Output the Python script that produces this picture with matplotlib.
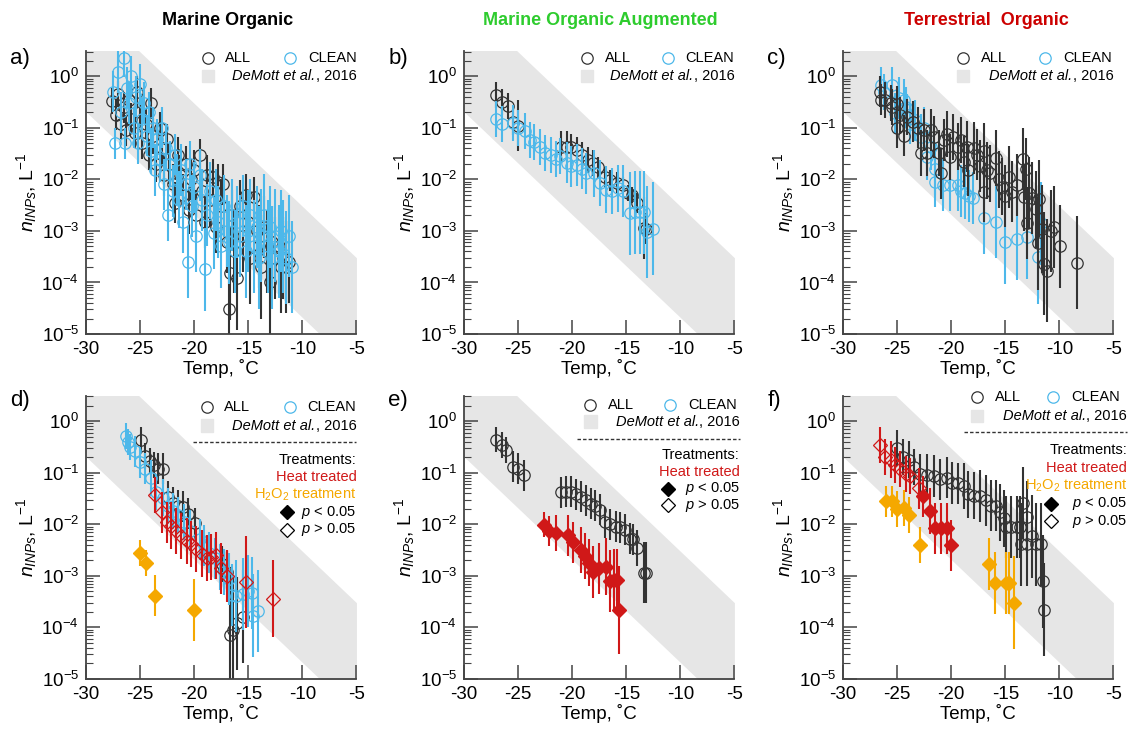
import numpy as np
import matplotlib.pyplot as plt
from matplotlib.patches import Rectangle
from matplotlib.ticker import LogLocator, NullFormatter, FixedLocator
from matplotlib.transforms import offset_copy

plt.rcParams['font.family'] = ['Liberation Sans', 'DejaVu Sans']
plt.rcParams['mathtext.fontset'] = 'custom'
plt.rcParams['mathtext.rm'] = 'Liberation Sans'
plt.rcParams['mathtext.it'] = 'Liberation Sans:italic'
plt.rcParams['axes.unicode_minus'] = False

# DeMott et al. 2016 band (edges at -30 and -5 C)
band_t = [-30, -5]
band_hi = [10**1.467, 10**-3.52]
band_lo = [10**-0.69, 10**-5.675]

# ---- a) Marine Organic ----
a_all_t = [-27.6, -27.2, -27.0, -26.8, -26.5, -26.3, -26.0, -25.8, -25.5, -25.3, -25.0, -24.8,
           -24.5, -24.2, -24.0, -23.8, -23.5, -23.2, -23.0, -22.8, -22.5, -22.3, -22.0, -21.8,
           -21.5, -21.3, -21.0, -20.8, -20.5, -20.3, -20.0, -19.8, -19.5, -19.3, -19.0, -18.8,
           -18.5, -18.3, -18.0, -17.8, -17.5, -17.3, -17.0, -16.8, -16.7, -16.5, -16.3, -16.0,
           -15.8, -15.5, -15.2, -15.0, -14.8, -14.5, -14.2, -14.0, -13.8, -13.5, -13.3, -13.0,
           -12.8, -12.5, -12.2, -12.0, -11.8, -11.5, -11.2]
a_all_y = [0.33, 0.18, 0.45, 0.12, 0.25, 0.09, 0.35, 0.15, 0.08, 0.5, 0.2, 0.05,
           0.12, 0.03, 0.3, 0.07, 0.02, 0.1, 0.04, 0.012, 0.06, 0.02, 0.008, 0.0035,
           0.03, 0.012, 0.005, 0.02, 0.0025, 0.01, 0.015, 0.002, 0.03, 0.006, 0.0015, 0.012,
           0.004, 0.011, 0.0012, 0.009, 0.003, 0.008, 0.0006, 3e-5, 1.5e-4, 0.002, 0.0004, 1.2e-4,
           0.003, 0.0008, 0.005, 0.0015, 0.0003, 0.0045, 0.001, 0.0005, 0.0002, 0.0012, 0.0004, 1e-4,
           0.0006, 0.0003, 0.0005, 0.0002, 0.0003, 0.0002, 0.00025]
a_all_e = [0.25, 0.3, 0.25, 0.3, 0.3, 0.3, 0.3, 0.3, 0.3, 0.3, 0.3, 0.3,
           0.3, 0.3, 0.3, 0.35, 0.35, 0.3, 0.35, 0.4, 0.3, 0.4, 0.4, 0.4,
           0.35, 0.4, 0.4, 0.35, 0.45, 0.4, 0.4, 0.5, 0.3, 0.4, 0.5, 0.4,
           0.5, 0.35, 0.5, 0.35, 0.5, 0.4, 0.6, 1.0, 0.9, 0.5, 0.8, 1.0,
           0.5, 0.7, 0.4, 0.6, 0.9, 0.4, 0.6, 0.8, 1.0, 0.6, 0.8, 1.0,
           0.7, 0.8, 0.7, 0.9, 0.8, 0.9, 0.8]
a_cln_t = [-27.5, -27.3, -27.0, -26.8, -26.5, -26.4, -26.2, -26.0, -25.8, -25.6, -25.4, -25.2,
           -25.0, -24.8, -24.6, -24.4, -24.2, -24.0, -23.8, -23.6, -23.4, -23.2, -23.0, -22.8,
           -22.6, -22.4, -22.2, -22.0, -21.8, -21.6, -21.4, -21.2, -21.0, -20.8, -20.6, -20.4,
           -20.2, -20.0, -19.8, -19.5, -19.3, -19.0, -18.8, -18.5, -18.2, -18.0, -17.8, -17.5,
           -17.2, -17.0, -16.8, -16.5, -16.2, -16.0, -15.8, -15.5, -15.2, -15.0, -14.8, -14.5,
           -14.2, -14.0, -13.8, -13.5, -13.2, -13.0, -12.8, -12.5, -12.2, -12.0, -11.8, -11.5,
           -11.2, -11.0]
a_cln_y = [0.5, 0.05, 1.2, 0.2, 2.2, 0.05, 0.6, 0.3, 1.0, 0.1, 0.4, 0.05,
           0.7, 0.15, 0.3, 0.07, 0.2, 0.035, 0.1, 0.015, 0.06, 0.025, 0.1, 0.008,
           0.04, 0.002, 0.02, 0.006, 0.03, 0.01, 0.004, 0.015, 0.0015, 0.008, 0.00025, 0.02,
           0.003, 0.007, 0.0008, 0.012, 0.004, 0.00018, 0.002, 0.006, 0.0009, 0.004, 0.0015, 0.0005,
           0.003, 0.001, 0.0006, 0.002, 0.0004, 0.0015, 0.0008, 0.003, 0.0004, 0.001, 0.002, 0.0005,
           0.0012, 0.0003, 0.0008, 0.002, 0.0005, 0.0012, 0.0003, 0.0008, 0.0004, 0.001, 0.0005, 0.0003,
           0.0008, 0.0002]
a_cln_e = [0.4, 0.3, 0.4, 0.4, 0.35, 0.3, 0.4, 0.4, 0.4, 0.4, 0.4, 0.4,
           0.4, 0.4, 0.4, 0.4, 0.4, 0.45, 0.4, 0.5, 0.4, 0.45, 0.4, 0.5,
           0.45, 0.5, 0.45, 0.5, 0.4, 0.5, 0.55, 0.5, 0.6, 0.5, 0.7, 0.45,
           0.6, 0.5, 0.7, 0.5, 0.6, 0.8, 0.6, 0.55, 0.7, 0.6, 0.7, 0.8,
           0.6, 0.7, 0.8, 0.7, 0.8, 0.7, 0.8, 0.6, 0.9, 0.8, 0.7, 0.9,
           0.8, 1.0, 0.9, 0.8, 0.9, 0.8, 1.0, 0.9, 0.9, 0.8, 0.9, 0.9,
           0.8, 0.9]

# ---- b) Marine Organic Augmented ----
b_all_t = [-27.07, -26.5, -25.9, -25.5, -25.0, -21.0, -20.5, -20.1, -19.6, -19.1, -18.5,
           -18.06, -17.6, -17.0, -16.5, -15.9, -15.3, -14.8, -14.5, -14.0, -13.4, -13.2]
b_all_y = [0.43, 0.32, 0.26, 0.13, 0.11, 0.043, 0.043, 0.043, 0.037, 0.03, 0.024,
           0.021, 0.017, 0.011, 0.0096, 0.0086, 0.0078, 0.0054, 0.005, 0.0035, 0.00115, 0.0011]
b_all_e = [0.25, 0.25, 0.25, 0.25, 0.5, 0.3, 0.3, 0.25, 0.25, 0.25, 0.25,
           0.25, 0.2, 0.2, 0.2, 0.2, 0.15, 0.15, 0.15, 0.2, 0.6, 0.3]
b_cln_t = [-27.0, -26.45, -25.5, -25.0, -24.4, -23.9, -23.5, -23.0, -22.5, -22.0, -21.5,
           -21.1, -20.5, -20.1, -19.6, -19.1, -18.7, -18.0, -17.4, -16.9, -16.35, -15.8,
           -15.3, -14.7, -14.2, -13.7, -13.4, -13.1, -12.5]
b_cln_y = [0.15, 0.12, 0.125, 0.10, 0.085, 0.057, 0.052, 0.043, 0.032, 0.03, 0.025,
           0.028, 0.021, 0.018, 0.019, 0.016, 0.013, 0.013, 0.0085, 0.0063, 0.006, 0.0067,
           0.006, 0.0022, 0.0023, 0.0023, 0.0023, 0.00095, 0.0011]
b_cln_e = [0.35, 0.35, 0.35, 0.35, 0.35, 0.35, 0.35, 0.35, 0.35, 0.35, 0.35,
           0.35, 0.4, 0.4, 0.4, 0.4, 0.4, 0.45, 0.45, 0.45, 0.45, 0.45,
           0.5, 0.8, 0.8, 0.8, 0.8, 0.9, 0.9]

# ---- c) Terrestrial Organic ----
c_all_t = [-26.54, -26.5, -26.1, -25.6, -25.5, -25.0, -25.0, -24.4, -24.7, -24.1, -23.5,
           -23.1, -22.8, -22.5, -21.9, -22.2, -21.6, -21.1, -20.9, -20.7, -20.4, -20.1,
           -19.8, -19.4, -19.1, -18.8, -18.5, -18.4, -17.9, -17.6, -17.3, -17.0, -17.0,
           -16.7, -16.4, -15.9, -15.6, -15.3, -15.0, -14.7, -14.35, -13.9, -13.4, -13.3,
           -13.1, -12.95, -12.8, -12.5, -12.2, -11.9, -12.0, -11.6, -11.4, -11.1, -10.8,
           -10.5, -9.9, -8.4]
c_all_y = [0.5, 0.35, 0.35, 0.3, 0.25, 0.29, 0.1, 0.07, 0.18, 0.16, 0.13,
           0.1, 0.032, 0.09, 0.09, 0.032, 0.066, 0.032, 0.013, 0.058, 0.075, 0.027,
           0.066, 0.043, 0.058, 0.022, 0.043, 0.015, 0.04, 0.03, 0.018, 0.035, 0.0058,
           0.015, 0.013, 0.026, 0.01, 0.0072, 0.0047, 0.011, 0.0058, 0.0079, 0.025, 0.0045,
           0.016, 0.0014, 0.0055, 0.0044, 0.0026, 0.0042, 0.00058, 0.0011, 0.00023, 0.00017, 0.001,
           0.0012, 0.0005, 0.00024]
c_all_e = [0.3, 0.3, 0.35, 0.35, 0.35, 0.35, 0.4, 0.4, 0.35, 0.35, 0.4,
           0.4, 0.45, 0.4, 0.4, 0.45, 0.4, 0.45, 0.5, 0.4, 0.45, 0.45,
           0.45, 0.45, 0.45, 0.5, 0.5, 0.5, 0.5, 0.5, 0.5, 0.55, 0.6,
           0.55, 0.55, 0.55, 0.55, 0.55, 0.6, 0.6, 0.6, 0.6, 0.6, 0.65,
           0.6, 0.7, 0.7, 0.7, 0.75, 0.75, 0.9, 0.85, 1.0, 1.0, 0.8,
           0.8, 0.8, 0.9]
c_cln_t = [-26.5, -26.2, -25.5, -25.2, -24.85, -24.4, -24.2, -24.1, -23.8, -23.3, -22.8,
           -22.5, -22.2, -21.9, -21.45, -21.45, -20.8, -20.1, -19.4, -19.1, -18.7, -18.35,
           -17.95, -17.0, -15.9, -15.0, -13.95, -12.95, -12.0, -11.7]
c_cln_y = [0.68, 0.5, 0.68, 0.19, 0.38, 0.35, 0.25, 0.18, 0.12, 0.14, 0.066,
           0.1, 0.027, 0.043, 0.016, 0.009, 0.0077, 0.0077, 0.0077, 0.006, 0.0055, 0.0047,
           0.0044, 0.0018, 0.0015, 0.0006, 0.00069, 0.00075, 0.00031, 0.0014]
c_cln_e = [0.35, 0.35, 0.35, 0.4, 0.4, 0.4, 0.4, 0.4, 0.4, 0.4, 0.45,
           0.4, 0.45, 0.45, 0.5, 0.5, 0.5, 0.5, 0.5, 0.5, 0.5, 0.5,
           0.5, 0.7, 0.7, 0.8, 0.8, 0.8, 0.9, 0.8]

# ---- d) Marine Organic, treatments ----
d_all_t = [-24.95, -24.55, -24.1, -23.7, -23.3, -22.9, -22.45, -22.0, -21.5, -21.0, -20.55,
           -19.9, -17.4, -17.2, -17.0, -16.65, -16.4, -16.0, -15.5]
d_all_y = [0.44, 0.21, 0.17, 0.14, 0.12, 0.12, 0.034, 0.026, 0.023, 0.022, 0.016,
           0.0105, 0.0017, 0.0013, 0.0012, 7e-5, 9e-5, 1.2e-4, 1.6e-4]
d_all_e = [0.25, 0.25, 0.25, 0.25, 0.3, 0.3, 0.3, 0.3, 0.3, 0.3, 0.3,
           0.3, 0.35, 0.35, 0.4, 1.2, 1.0, 0.9, 0.9]
d_cln_t = [-26.3, -26.1, -25.9, -25.5, -25.0, -24.55, -24.0, -23.5, -22.9, -22.45, -22.0,
           -21.5, -20.9, -20.4, -19.5, -19.1, -18.6, -18.1, -17.6, -17.2, -16.8, -16.55,
           -16.15, -15.5, -15.0, -14.7, -14.55, -14.1]
d_cln_y = [0.51, 0.39, 0.32, 0.26, 0.16, 0.12, 0.08, 0.043, 0.033, 0.023, 0.018,
           0.015, 0.011, 0.0075, 0.0051, 0.0039, 0.0028, 0.0022, 0.0015, 0.0012, 0.00086, 0.00042,
           0.00041, 0.00044, 0.0005, 0.00047, 0.00017, 0.00021]
d_cln_e = [0.25, 0.25, 0.25, 0.3, 0.3, 0.3, 0.35, 0.35, 0.35, 0.35, 0.35,
           0.35, 0.35, 0.4, 0.4, 0.4, 0.4, 0.4, 0.45, 0.45, 0.5, 0.6,
           0.7, 0.7, 0.7, 0.7, 0.8, 0.8]
d_heat_t = [-23.6, -23.0, -22.55, -22.1, -21.7, -21.2, -20.7, -20.25, -19.8, -19.3, -18.85,
            -18.4, -18.0, -17.5, -17.0, -15.2, -12.75]
d_heat_y = [0.037, 0.017, 0.011, 0.0094, 0.0075, 0.006, 0.0048, 0.0041, 0.0033, 0.0027, 0.0022,
            0.0023, 0.0025, 0.0014, 0.001, 0.00076, 0.00036]
d_heat_e = [0.35, 0.4, 0.4, 0.45, 0.45, 0.45, 0.45, 0.45, 0.45, 0.45, 0.45,
            0.45, 0.45, 0.5, 0.5, 0.9, 0.75]
d_heat_sig = [False] * 17
d_h2o2_t = [-25.0, -24.5, -23.6, -20.0]
d_h2o2_y = [0.0028, 0.0018, 0.00041, 0.00022]
d_h2o2_e = [0.25, 0.25, 0.4, 0.6]
d_h2o2_sig = [True, True, True, True]

# ---- e) Marine Organic Augmented, treatments ----
e_all_t = [-27.07, -26.5, -26.1, -25.5, -24.97, -24.5, -21.05, -20.6, -20.1, -19.66, -19.2,
           -18.7, -18.3, -17.9, -17.4, -17.0, -16.5, -15.96, -15.6, -15.1, -14.7, -14.4,
           -14.0, -13.4, -13.2]
e_all_y = [0.44, 0.34, 0.28, 0.13, 0.12, 0.09, 0.042, 0.043, 0.043, 0.038, 0.034,
           0.029, 0.025, 0.023, 0.019, 0.011, 0.01, 0.009, 0.0088, 0.0079, 0.0052, 0.0051,
           0.0034, 0.00116, 0.00116]
e_all_e = [0.25, 0.25, 0.25, 0.3, 0.3, 0.3, 0.3, 0.3, 0.3, 0.3, 0.3,
           0.3, 0.3, 0.3, 0.3, 0.3, 0.3, 0.3, 0.3, 0.3, 0.3, 0.3,
           0.35, 0.6, 0.6]
e_heat_t = [-22.6, -22.1, -21.45, -20.4, -19.97, -19.2, -18.8, -18.4, -18.05, -17.5, -16.9,
            -16.5, -16.1, -15.85, -15.65]
e_heat_y = [0.0099, 0.0074, 0.0068, 0.0061, 0.0045, 0.0032, 0.0024, 0.0018, 0.0012, 0.0014, 0.0015,
            0.0008, 0.00085, 0.00085, 0.00022]
e_heat_e = [0.25, 0.3, 0.35, 0.4, 0.4, 0.45, 0.45, 0.45, 0.5, 0.5, 0.55,
            0.6, 0.6, 0.6, 0.85]
e_heat_sig = [True] * 15

# ---- f) Terrestrial Organic, treatments ----
f_all_t = [-25.0, -24.44, -23.9, -23.4, -22.84, -22.2, -21.6, -21.0, -20.4, -19.9, -19.4,
           -18.8, -18.4, -17.9, -17.35, -16.8, -16.35, -15.9, -15.5, -15.1, -14.9, -14.45,
           -13.9, -13.6, -13.4, -13.0, -13.5, -12.96, -12.5, -12.2, -11.7, -11.5, -11.4]
f_all_y = [0.3, 0.2, 0.18, 0.13, 0.093, 0.09, 0.086, 0.075, 0.08, 0.063, 0.062,
           0.055, 0.038, 0.036, 0.035, 0.029, 0.023, 0.023, 0.017, 0.013, 0.0087, 0.0087,
           0.0087, 0.009, 0.026, 0.014, 0.0041, 0.0041, 0.0058, 0.0041, 0.0041, 0.00079, 0.00022]
f_all_e = [0.35, 0.35, 0.35, 0.35, 0.4, 0.4, 0.4, 0.4, 0.4, 0.4, 0.4,
           0.45, 0.45, 0.45, 0.5, 0.5, 0.5, 0.5, 0.55, 0.55, 0.6, 0.6,
           0.6, 0.6, 0.7, 0.7, 0.8, 0.8, 0.8, 0.8, 0.8, 0.9, 0.9]
f_heat_t = [-26.55, -26.1, -25.6, -25.15, -24.7, -24.2, -23.8, -23.0,
            -22.6, -21.95, -21.5, -20.9, -20.4, -20.0]
f_heat_y = [0.35, 0.2, 0.18, 0.14, 0.12, 0.094, 0.085, 0.05,
            0.035, 0.018, 0.0083, 0.0083, 0.0083, 0.0039]
f_heat_e = [0.35, 0.35, 0.35, 0.35, 0.35, 0.35, 0.35, 0.4,
            0.4, 0.45, 0.5, 0.5, 0.5, 0.5]
f_heat_sig = [False] * 8 + [True] * 6
f_h2o2_t = [-26.0, -25.5, -25.0, -24.4, -23.9, -22.9, -16.5, -15.95, -14.97, -14.7, -14.2]
f_h2o2_y = [0.028, 0.028, 0.02, 0.021, 0.015, 0.004, 0.0017, 0.00073, 0.00073, 0.00073, 0.0003]
f_h2o2_e = [0.3, 0.3, 0.35, 0.35, 0.35, 0.35, 0.5, 0.6, 0.6, 0.6, 0.9]
f_h2o2_sig = [True] * 11

titles = ['Marine Organic', 'Marine Organic Augmented', 'Terrestrial  Organic']
title_colors = ['black', '#2ecc2e', '#cc0000']
title_x = [0.202, 0.532, 0.874]
panel_labels = ['a)', 'b)', 'c)', 'd)', 'e)', 'f)']

c_all = '#333333'
c_cln = '#4db8ea'
c_heat = '#d01818'
c_h2o2 = '#f5a800'
c_band = '#e6e6e6'


def yerr(y, e):
    y = np.asarray(y)
    e = np.asarray(e)
    return [y - y * 10**(-e), y * 10**e - y]


def circles(ax, t, y, e, col, z):
    ax.errorbar(t, y, yerr=yerr(y, e), fmt='o', ms=8.2, mfc='none', mec=col, mew=0.9,
                ecolor=col, elinewidth=1.5, capsize=0, zorder=z)


def diamonds(ax, t, y, e, sig, col, z):
    t = np.asarray(t)
    y = np.asarray(y)
    e = np.asarray(e)
    sig = np.asarray(sig)
    ax.errorbar(t, y, yerr=yerr(y, e), fmt='none', ecolor=col, elinewidth=1.5, capsize=0, zorder=z)
    ax.plot(t[sig], y[sig], 'D', ms=7.5, color=col, mec=col, zorder=z + 0.5)
    ax.plot(t[~sig], y[~sig], 'D', ms=7.5, mfc='none', mec=col, mew=0.9, zorder=z + 0.5)


def legend(fig, ax, xa, xc, ya, yb, xr=1.0, treat=None):
    tr = ax.transAxes
    ax.plot([xa], [ya], 'o', ms=8.2, mfc='none', mec=c_all, mew=0.9, transform=tr, clip_on=False)
    ax.text(xa + 0.065, ya, 'ALL', transform=tr, fontsize=10.5, va='center', ha='left')
    ax.plot([xc], [ya], 'o', ms=8.2, mfc='none', mec=c_cln, mew=0.9, transform=tr, clip_on=False)
    ax.text(xc + 0.065, ya, 'CLEAN', transform=tr, fontsize=10.5, va='center', ha='left')
    ax.add_patch(Rectangle((xa - 0.022, yb - 0.022), 0.045, 0.044, transform=tr,
                           color=c_band, clip_on=False))
    yr = ax.text(xr, yb, ', 2016', transform=tr, fontsize=10.5, va='center', ha='right')
    w = yr.get_window_extent(renderer=fig.canvas.get_renderer()).width
    ax.text(xr, yb, 'DeMott et al.', fontsize=10.5, style='italic', va='center', ha='right',
            transform=offset_copy(tr, fig=fig, x=-w, y=0, units='dots'))
    if treat is None:
        return
    yd, step, rows = treat
    ax.plot([xa - 0.05, xr], [yd, yd], ls=(0, (2.5, 1.5)), color='#333333', lw=1.0,
            transform=tr, clip_on=False)
    y = yd - step
    ax.text(xr, y, 'Treatments:', transform=tr, fontsize=10.5, va='center', ha='right')
    for label, col in rows:
        y -= step
        ax.text(xr, y, label, transform=tr, fontsize=10.5, va='center', ha='right', color=col)
    y -= step
    ax.plot([xc - 0.01], [y], 'D', ms=7.5, color='black', transform=tr, clip_on=False)
    ax.text(xr, y, r'$p$ < 0.05', transform=tr, fontsize=10.5, va='center', ha='right')
    y -= step
    ax.plot([xc - 0.01], [y], 'D', ms=7.5, mfc='none', mec='black', mew=0.9,
            transform=tr, clip_on=False)
    ax.text(xr, y, r'$p$ > 0.05', transform=tr, fontsize=10.5, va='center', ha='right')


fig = plt.figure(figsize=(11.29, 7.31), dpi=100)
lefts = [0.0762, 0.411, 0.7467]
bottoms = [0.543, 0.0711]
axes = []
for r in range(2):
    for c in range(3):
        ax = fig.add_axes([lefts[c], bottoms[r], 0.2395, 0.387])
        axes.append(ax)
        ax.fill_between(band_t, band_lo, band_hi, color=c_band, lw=0, zorder=0)
        ax.set_yscale('log')
        ax.set_xlim(-30, -5)
        ax.set_ylim(1e-5, 3.05)
        ax.xaxis.set_major_locator(FixedLocator([-30, -25, -20, -15, -10, -5]))
        ax.yaxis.set_major_locator(LogLocator(base=10, numticks=10))
        ax.yaxis.set_minor_locator(LogLocator(base=10, subs=np.arange(2, 10), numticks=10))
        ax.yaxis.set_minor_formatter(NullFormatter())
        ax.spines['top'].set_visible(False)
        ax.spines['right'].set_visible(False)
        for s in ['left', 'bottom']:
            ax.spines[s].set_color('#444444')
            ax.spines[s].set_linewidth(1.3)
        ax.tick_params(which='major', direction='in', length=10, width=1.1, color='#444444',
                       labelsize=13.5, pad=5)
        ax.tick_params(which='minor', direction='in', length=5, width=0.8, color='#444444')
        ax.set_xlabel('Temp, ˚C', fontsize=13.5, labelpad=1)
        ax.set_ylabel(r'$n_{INPs}$, L$^{-1}$', fontsize=14, labelpad=2)
        ax.text(-0.28, 0.975 if r == 0 else 0.985, panel_labels[3 * r + c], transform=ax.transAxes,
                fontsize=16, va='center', ha='left')

for c in range(3):
    fig.text(title_x[c], 0.972, titles[c], fontsize=13, fontweight='bold', color=title_colors[c],
             ha='center', va='center')

ax_a, ax_b, ax_c, ax_d, ax_e, ax_f = axes

circles(ax_a, a_all_t, a_all_y, a_all_e, c_all, 2)
circles(ax_a, a_cln_t, a_cln_y, a_cln_e, c_cln, 3)
legend(fig, ax_a, 0.45, 0.756, 0.975, 0.913)

circles(ax_b, b_all_t, b_all_y, b_all_e, c_all, 2)
circles(ax_b, b_cln_t, b_cln_y, b_cln_e, c_cln, 3)
legend(fig, ax_b, 0.455, 0.755, 0.975, 0.913)

circles(ax_c, c_all_t, c_all_y, c_all_e, c_all, 3)
circles(ax_c, c_cln_t, c_cln_y, c_cln_e, c_cln, 2)
legend(fig, ax_c, 0.444, 0.748, 0.975, 0.913)

circles(ax_d, d_all_t, d_all_y, d_all_e, c_all, 2)
circles(ax_d, d_cln_t, d_cln_y, d_cln_e, c_cln, 3)
diamonds(ax_d, d_heat_t, d_heat_y, d_heat_e, d_heat_sig, c_heat, 4)
diamonds(ax_d, d_h2o2_t, d_h2o2_y, d_h2o2_e, d_h2o2_sig, c_h2o2, 4)
legend(fig, ax_d, 0.446, 0.753, 0.961, 0.896,
       treat=(0.837, 0.062, [('Heat treated', c_heat), (r'H$_2$O$_2$ treatment', c_h2o2)]))

circles(ax_e, e_all_t, e_all_y, e_all_e, c_all, 2)
diamonds(ax_e, e_heat_t, e_heat_y, e_heat_e, e_heat_sig, c_heat, 4)
legend(fig, ax_e, 0.467, 0.763, 0.97, 0.91, xr=1.02,
       treat=(0.85, 0.059, [('Heat treated', c_heat)]))

circles(ax_f, f_all_t, f_all_y, f_all_e, c_all, 2)
diamonds(ax_f, f_heat_t, f_heat_y, f_heat_e, f_heat_sig, c_heat, 4)
diamonds(ax_f, f_h2o2_t, f_h2o2_y, f_h2o2_e, f_h2o2_sig, c_h2o2, 4)
legend(fig, ax_f, 0.496, 0.778, 0.996, 0.93, xr=1.05,
       treat=(0.872, 0.063, [('Heat treated', c_heat), (r'H$_2$O$_2$ treatment', c_h2o2)]))

fig.savefig('out.png', dpi=100)
